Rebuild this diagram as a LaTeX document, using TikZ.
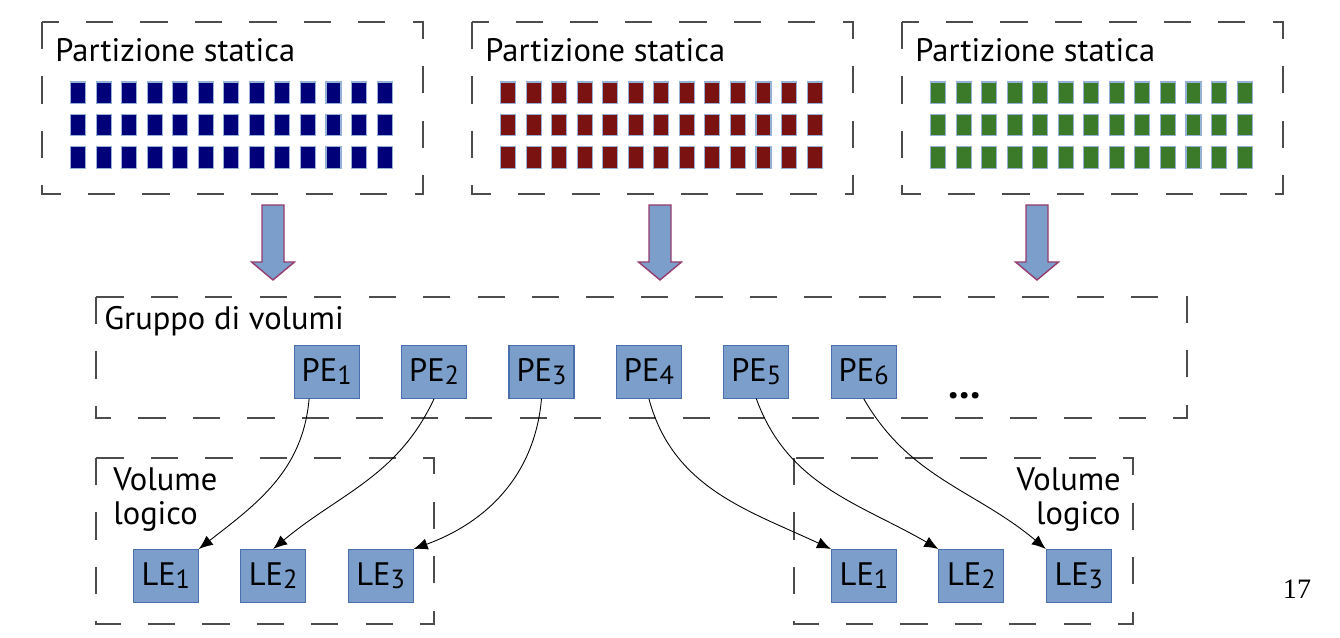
\documentclass[tikz,border=0pt]{standalone}
\usepackage{fontspec}
\setmainfont{PT Sans}
\newfontfamily\pagefont{Liberation Serif}
\usetikzlibrary{arrows.meta}

\definecolor{peblue}{RGB}{123,158,203}
\definecolor{peedge}{RGB}{74,111,175}
\definecolor{arrowedge}{RGB}{150,60,110}
\definecolor{navy}{RGB}{0,0,120}
\definecolor{rosso}{RGB}{122,18,18}
\definecolor{verde}{RGB}{58,122,40}

\tikzset{
  area/.style={draw=black!70, line width=0.7pt, dash pattern=on 15.5pt off 15.5pt},
  blocco/.style={draw=peedge, fill=peblue, line width=0.6pt, minimum width=1.3cm,
    minimum height=1.06cm, inner sep=0pt, font=\fontsize{18.5}{20}\selectfont},
  etichetta/.style={inner sep=0pt, font=\fontsize{18.5}{19.6}\selectfont},
  freccia/.style={draw=arrowedge, fill=peblue, line width=0.8pt, line join=miter},
  mappa/.style={-{Latex[length=8pt,width=6.5pt]}, line width=0.5pt}
}
\newcommand{\ped}[1]{\raisebox{-1.6pt}{\fontsize{15}{16}\selectfont #1}}

\begin{document}
\begin{tikzpicture}[x=0.02cm,y=-0.02cm]
  \useasboundingbox (0,0) rectangle (1340,638);

  % partizioni statiche
  \foreach \bx/\col/\n in {42/navy/a,472/rosso/b,902/verde/c}{
    \draw[area] (\bx,22) rectangle (\bx+381,194);
    \node[etichetta, anchor=base west] (part\n) at (\bx+13,61.5) {Partizione statica};
    \foreach \c in {0,...,12}{
      \foreach \r in {0,1,2}{
        \draw[draw=peblue!80, fill=\col, line width=0.6pt]
          (\bx+28.5+\c*25.55,82+\r*32.2) rectangle +(15,21.7);
      }
    }
  }

  % frecce verso il gruppo
  \foreach \ax in {273,660,1037}{
    \begin{scope}[shift={(\ax,0)}]
      \draw[freccia] (-11,205) -- (11,205) -- (11,262) -- (21.5,262) -- (0,280)
        -- (-21.5,262) -- (-11,262) -- cycle;
    \end{scope}
  }

  % gruppo di volumi
  \draw[area] (96,297) rectangle (1187,418);
  \node[etichetta, anchor=base west] (gruppo) at (104,330) {Gruppo di volumi};

  \foreach \i in {1,...,6}{
    \node[blocco] (pe\i) at (326.7+\i*107.4-107.4,371.7) {PE\ped{\i}};
  }
  \node[inner sep=0pt, anchor=base, font=\fontsize{24}{24}\selectfont\bfseries] (dots) at (965,399) {...};

  % volumi logici
  \draw[area] (96,458) rectangle (434,624);
  \draw[area] (794,458) rectangle (1133,624);
  \node[etichetta, anchor=north west, align=left] (vola) at (113,467) {Volume\\logico};
  \node[etichetta, anchor=north east, align=right] (volb) at (1121,467) {Volume\\logico};

  \foreach \i in {1,2,3}{
    \node[blocco] (lea\i) at (165.8+\i*107.4-107.4,576) {LE\ped{\i}};
    \node[blocco] (leb\i) at (864+\i*107.4-107.4,576) {LE\ped{\i}};
  }

  % corrispondenze PE -> LE
  \draw[mappa] ([xshift=-10]pe1.south) to[out=-95,in=38] (lea1.north east);
  \draw[mappa] (pe2.south) to[out=-115,in=40] (lea2.north);
  \draw[mappa] (pe3.south) to[out=-95,in=20] (lea3.north east);
  \draw[mappa] (pe4.south) to[out=-75,in=155] (leb1.north west);
  \draw[mappa] (pe5.south) to[out=-70,in=150] (leb2.north west);
  \draw[mappa] (pe6.south) to[out=-60,in=140] (leb3.north west);

  \node[inner sep=0pt, anchor=base, font=\pagefont\fontsize{16}{16}\selectfont] (pagina) at (1297,599) {17};
\end{tikzpicture}
\end{document}
